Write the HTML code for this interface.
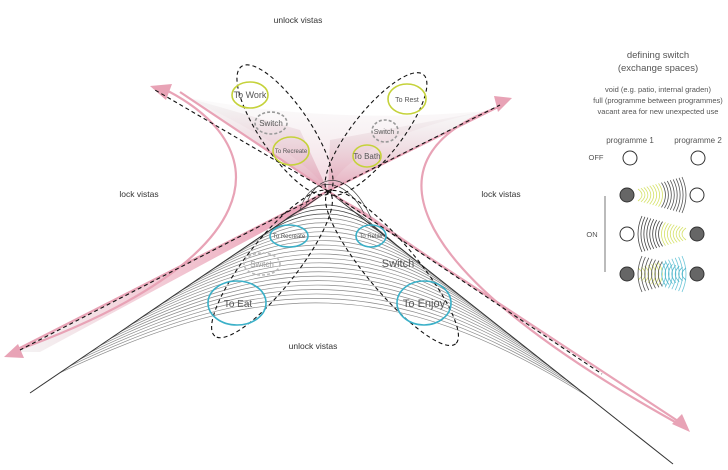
<!DOCTYPE html>
<html><head><meta charset="utf-8"><style>
html,body{margin:0;padding:0;background:#fff;}
svg{display:block;font-family:"Liberation Sans",sans-serif;}
</style></head><body>
<svg id="s" width="728" height="470" viewBox="0 0 728 470" xmlns="http://www.w3.org/2000/svg">
<defs>
<linearGradient id="gu" x1="0" y1="0" x2="0" y2="1">
<stop offset="0" stop-color="#e8e8e8" stop-opacity="0.3"/><stop offset="1" stop-color="#e3a0b4" stop-opacity="0.9"/></linearGradient>
<linearGradient id="gl" x1="1" y1="0" x2="0" y2="0">
<stop offset="0" stop-color="#e890aa" stop-opacity="0.9"/><stop offset="0.6" stop-color="#e8a0b4" stop-opacity="0.5"/><stop offset="1" stop-color="#ddd" stop-opacity="0.3"/></linearGradient>
<linearGradient id="gr" x1="0" y1="0" x2="1" y2="0">
<stop offset="0" stop-color="#e890aa" stop-opacity="0.9"/><stop offset="1" stop-color="#ccc" stop-opacity="0.3"/></linearGradient>
</defs>
<g id="wedges">
<polygon points="328,191 185,97 300,130" fill="url(#gu)"/>
<polygon points="328,191 486,111 330,140" fill="url(#gu)"/>
<path d="M185,97 Q300,150 328,191 Q350,140 486,111 Q330,125 185,97Z" fill="url(#gu)" opacity="0.5"/>
<polygon points="328,191 12,352 40,352 300,212" fill="url(#gl)"/>
<polygon points="328,191 640,400 610,380 365,212" fill="url(#gr)"/>
</g>
<g id="fan" fill="none" stroke="#777" stroke-width="0.7"></g>
<g fill="none" stroke="#333" stroke-width="1">
<line x1="328" y1="191" x2="30" y2="393"/>
<line x1="328" y1="191" x2="673" y2="464"/>
<path d="M300,210 C310,175 345,175 365,215" stroke="#444" stroke-width="0.7"/>
<path d="M306,205 C318,170 350,170 372,220" stroke="#444" stroke-width="0.7"/>
</g>
<g fill="none" stroke="#e8a3b6" stroke-width="2.2">
<line x1="328" y1="191" x2="180" y2="92"/>
<line x1="328" y1="191" x2="498" y2="107"/>
<line x1="328" y1="191" x2="12" y2="352"/>
<line x1="328" y1="191" x2="684" y2="425"/>
<path d="M168,91 C280,150 270,260 12,352"/>
<path d="M502,106 C370,150 380,260 686,428"/>
</g>
<g fill="#e8a3b6">
<polygon points="150,86 172,84 166,100"/>
<polygon points="512,98 494,96 498,112"/>
<polygon points="4,357 18,344 24,358"/>
<polygon points="690,432 672,424 682,414"/>
</g>
<g fill="none" stroke="#111" stroke-width="1.1" stroke-dasharray="4,3">
<line x1="328" y1="191" x2="155" y2="90"/>
<line x1="328" y1="191" x2="500" y2="105"/>
<line x1="328" y1="191" x2="20" y2="350"/>
<line x1="328" y1="191" x2="602" y2="374"/>
<ellipse cx="285" cy="130" rx="77" ry="25" transform="rotate(55.7 285 130)"/>
<ellipse cx="376" cy="134" rx="76" ry="24" transform="rotate(128.5 376 134)"/>
<ellipse cx="272" cy="264" rx="92" ry="25" transform="rotate(128.4 272 264)"/>
<ellipse cx="392" cy="268" rx="99" ry="25" transform="rotate(50 392 268)"/>
</g>
<g fill="none" stroke-width="1.6">
<ellipse cx="250" cy="95" rx="18" ry="13" stroke="#c5d23a"/>
<ellipse cx="291" cy="151" rx="18" ry="14" stroke="#c5d23a"/>
<ellipse cx="407" cy="99" rx="19" ry="15" stroke="#c5d23a"/>
<ellipse cx="367" cy="156" rx="14" ry="11" stroke="#c5d23a"/>
<ellipse cx="289" cy="236" rx="19" ry="11" stroke="#3ab0c8"/>
<ellipse cx="371" cy="236" rx="15" ry="11" stroke="#3ab0c8"/>
<ellipse cx="237" cy="303" rx="29" ry="22" stroke="#3ab0c8"/>
<ellipse cx="424" cy="303" rx="27" ry="22" stroke="#3ab0c8"/>
<ellipse cx="271" cy="123" rx="16" ry="11" stroke="#999" stroke-dasharray="3,2"/>
<ellipse cx="385" cy="131" rx="13" ry="11" stroke="#999" stroke-dasharray="3,2"/>
<ellipse cx="262" cy="264" rx="18" ry="11" stroke="#bbb" stroke-dasharray="3,2"/>
</g>
<g fill="#555" font-size="8" text-anchor="middle">
<text x="250" y="98" font-size="9">To Work</text>
<text x="271" y="126">Switch</text>
<text x="291" y="153" font-size="6">To Recreate</text>
<text x="407" y="102" font-size="7">To Rest</text>
<text x="384" y="134" font-size="7">Switch</text>
<text x="367" y="159">To Bath</text>
<text x="289" y="238" font-size="6">To Recreate</text>
<text x="371" y="238" font-size="6">To Relax</text>
<text x="262" y="267" fill="#999">Switch</text>
<text x="398" y="267" font-size="11">Switch</text>
<text x="238" y="307" font-size="10">To Eat</text>
<text x="424" y="307" font-size="11">To Enjoy</text>
</g>
<g fill="#333" font-size="8.5" text-anchor="middle">
<text x="298" y="23">unlock vistas</text>
<text x="313" y="349">unlock vistas</text>
<text x="139" y="197">lock vistas</text>
<text x="501" y="197">lock vistas</text>
</g>
<g fill="#555" text-anchor="middle">
<text x="658" y="58" font-size="9.5">defining switch</text>
<text x="658" y="71" font-size="9.5">(exchange spaces)</text>
<text x="658" y="92" font-size="7.5">void (e.g. patio, internal graden)</text>
<text x="658" y="103" font-size="7.5">full (programme between programmes)</text>
<text x="658" y="114" font-size="7.5">vacant area for new unexpected use</text>
<text x="630" y="143" font-size="8">programme 1</text>
<text x="698" y="143" font-size="8">programme 2</text>
<text x="596" y="160" font-size="7.5">OFF</text>
<text x="592" y="237" font-size="7.5">ON</text>
</g>
<line x1="605" y1="196" x2="605" y2="272" stroke="#777" stroke-width="1"/>
<g id="arcs" fill="none" stroke-width="0.8"></g>
<g stroke="#333" stroke-width="1">
<circle cx="630" cy="158" r="7" fill="#fff"/>
<circle cx="698" cy="158" r="7" fill="#fff"/>
<circle cx="627" cy="195" r="7" fill="#666"/>
<circle cx="697" cy="195" r="7" fill="#fff"/>
<circle cx="627" cy="234" r="7" fill="#fff"/>
<circle cx="697" cy="234" r="7" fill="#666"/>
<circle cx="627" cy="274" r="7" fill="#666"/>
<circle cx="697" cy="274" r="7" fill="#666"/>
</g>
</svg>
<script>
var ns="http://www.w3.org/2000/svg";
var fan=document.getElementById("fan");
var C=[328,191],L=[30,393],R=[673,464];
for(var i=0;i<=22;i++){
 var t=i/22;
 var sl=0.15+0.75*t, sr=0.15+0.6*t;
 var lx=C[0]+(L[0]-C[0])*sl, ly=C[1]+(L[1]-C[1])*sl;
 var rx=C[0]+(R[0]-C[0])*sr, ry=C[1]+(R[1]-C[1])*sr;
 var py=198+78*t;
 var w=20+45*t;
 var p=document.createElementNS(ns,"path");
 p.setAttribute("d","M"+lx+","+ly+" C"+(330-w)+","+py+" "+(330+w)+","+py+" "+rx+","+ry);
 p.setAttribute("stroke", i<3?"#444":"#8a8a8a");
 fan.appendChild(p);
}
var arcs=document.getElementById("arcs");
function row(y,dir,c1,c2,n){
 for(var i=0;i<n;i++){
  var t=i/(n-1);
  var x = dir>0 ? 638+t*44 : 686-t*44;
  var h = 6+t*12;
  var bx = x+dir*4;
  var p=document.createElementNS(ns,"path");
  p.setAttribute("d","M"+x+","+(y-h)+" Q"+(bx+dir*4)+","+y+" "+x+","+(y+h));
  p.setAttribute("stroke", t<0.5?c1:c2);
  arcs.appendChild(p);
 }
}
row(195,1,"#d6e26a","#555",16);
row(234,-1,"#d6e26a","#444",16);
row(274,1,"#d6e26a","#6cc6d8",14);
row(274,-1,"#55b8cc","#555",14);
</script>
</body></html>
